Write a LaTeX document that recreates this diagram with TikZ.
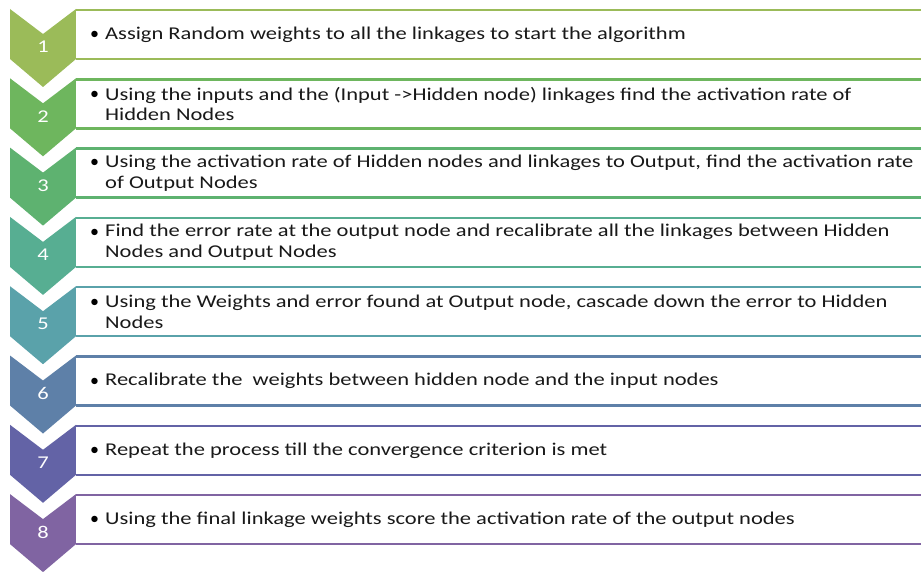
\documentclass[tikz,border=0pt]{standalone}
\usepackage{fontspec}
\setmainfont{Carlito}
\newfontfamily\stepfont[FakeStretch=1.25]{Carlito}
\definecolor{c1}{RGB}{155,187,89}
\definecolor{c2}{RGB}{110,182,94}
\definecolor{c3}{RGB}{94,178,112}
\definecolor{c4}{RGB}{87,174,146}
\definecolor{c5}{RGB}{90,162,170}
\definecolor{c6}{RGB}{94,128,168}
\definecolor{c7}{RGB}{99,99,166}
\definecolor{c8}{RGB}{128,100,162}
\begin{document}
\begin{tikzpicture}[x=1pt,y=-1pt,
  chev/.style={fill=#1, draw=none},
  numlabel/.style={text=white, font=\stepfont\fontsize{18}{20}\selectfont, inner sep=0pt},
  stepline/.style={draw=#1, line width=2.5pt},
  steptext/.style={anchor=west, align=left, text=black!90, inner sep=0pt,
    font=\stepfont\fontsize{18}{20.5}\selectfont}]
\useasboundingbox[fill=white] (0,0) rectangle (921,572);
\foreach \i/\txt in {
  1/{Assign Random weights to all the linkages to start the algorithm},
  2/{Using the inputs and the (Input ->Hidden node) linkages find the activation rate of\\Hidden Nodes},
  3/{Using the activation rate of Hidden nodes and linkages to Output, find the activation rate\\of Output Nodes},
  4/{Find the error rate at the output node and recalibrate all the linkages between Hidden\\Nodes and Output Nodes},
  5/{Using the Weights and error found at Output node, cascade down the error to Hidden\\Nodes},
  6/{Recalibrate the\ \ weights between hidden node and the input nodes},
  7/{Repeat the process till the convergence criterion is met},
  8/{Using the final linkage weights score the activation rate of the output nodes}}{
  \pgfmathsetmacro{\yt}{9+69.3*(\i-1)}
  % chevron pointing down
  \fill[chev=c\i] (10,\yt) -- (43,\yt+25) -- (76,\yt) -- (76,\yt+50)
    -- (43,\yt+78) -- (10,\yt+50) -- cycle;
  \node[numlabel] (n\i) at (43,\yt+38) {\i};
  % text panel with top and bottom rules
  \fill[white] (76,\yt+1) rectangle (921,\yt+50);
  \draw[stepline=c\i] (76,\yt+1) -- (921,\yt+1);
  \draw[stepline=c\i] (76,\yt+50) -- (921,\yt+50);
  \node[steptext] (b\i) at (105,\yt+25.5) {\txt};
  \node[anchor=base west, inner sep=0pt, font=\fontsize{18}{20}\selectfont]
    (d\i) at ([xshift=-15pt]b\i.north west) [yshift=-13pt] {\textbullet};
}
\end{tikzpicture}
\end{document}
